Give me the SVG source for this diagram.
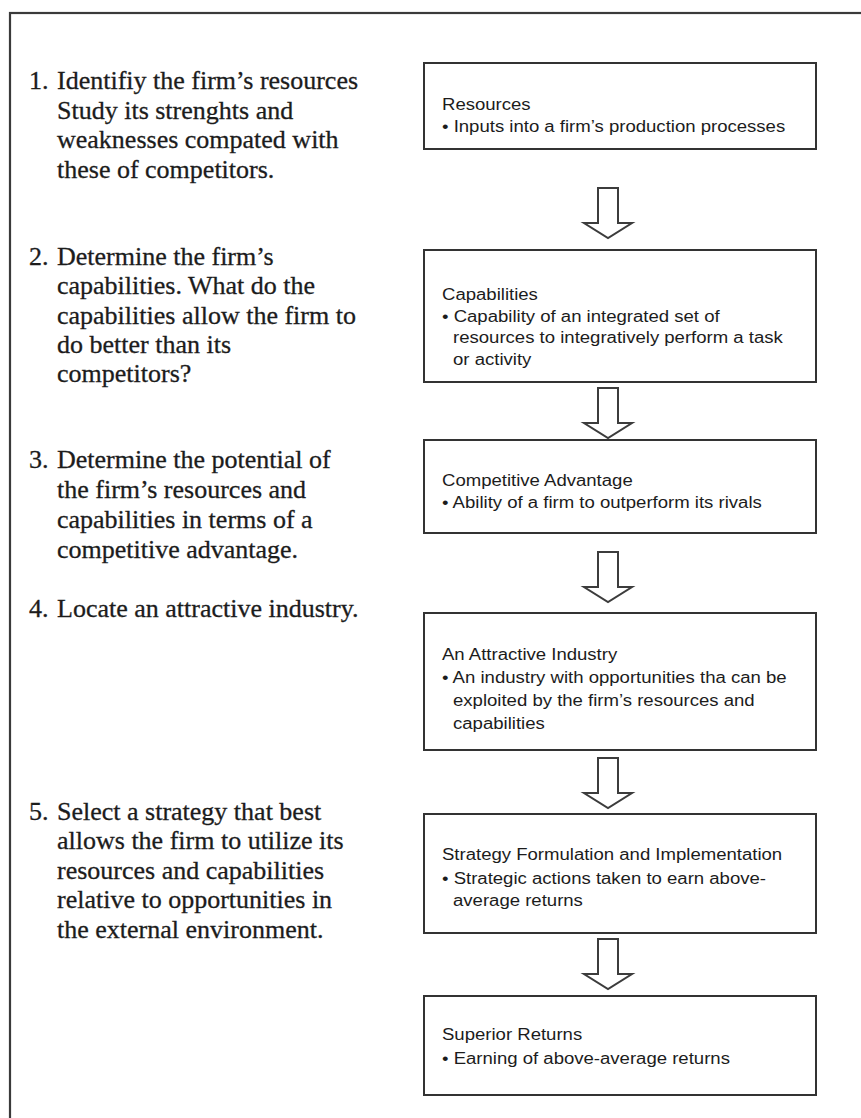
<svg xmlns="http://www.w3.org/2000/svg" width="861" height="1118" viewBox="0 0 861 1118">
  <defs>
    <style>
      .frame { fill: none; stroke: #3a3a3a; stroke-width: 2.2; }
      .box { fill: #ffffff; stroke: #333333; stroke-width: 2; }
      .arrow { fill: #ffffff; stroke: #3c3c3c; stroke-width: 2; stroke-linejoin: miter; }
      .step { font-family: "Liberation Serif", "Times New Roman", serif; font-size: 26px; fill: #1c1c1c; stroke: #1c1c1c; stroke-width: 0.3; }
      .lbl { font-family: "Liberation Sans", Arial, sans-serif; font-size: 16px; fill: #1c1c1c; }
    </style>
    <!-- hollow block arrow pointing down, origin at top-centre of the shaft -->
    <path id="downArrow" class="arrow" d="M -10 0 H 10 V 35 H 24 L 0 50 L -24 35 H -10 Z"/>
  </defs>

  <rect width="861" height="1118" fill="#ffffff"/>

  <!-- outer frame: only the top and left edges fall inside the page -->
  <rect class="frame" x="10" y="13" width="880" height="1130"/>

  <!-- left column: numbered analysis steps -->
  <g id="steps" class="step">
    <g id="step1">
      <text x="29" y="89">1.</text>
      <text x="57" y="89">Identifiy the firm’s resources</text>
      <text x="57" y="119">Study its strenghts and</text>
      <text x="57" y="148">weaknesses compated with</text>
      <text x="57" y="178">these of competitors.</text>
    </g>
    <g id="step2">
      <text x="29" y="265">2.</text>
      <text x="57" y="265">Determine the firm’s</text>
      <text x="57" y="294">capabilities. What do the</text>
      <text x="57" y="324">capabilities allow the firm to</text>
      <text x="57" y="353">do better than its</text>
      <text x="57" y="382">competitors?</text>
    </g>
    <g id="step3">
      <text x="29" y="468">3.</text>
      <text x="57" y="468">Determine the potential of</text>
      <text x="57" y="498">the firm’s resources and</text>
      <text x="57" y="528">capabilities in terms of a</text>
      <text x="57" y="558">competitive advantage.</text>
    </g>
    <g id="step4">
      <text x="29" y="617">4.</text>
      <text x="57" y="617">Locate an attractive industry.</text>
    </g>
    <g id="step5">
      <text x="29" y="820">5.</text>
      <text x="57" y="820">Select a strategy that best</text>
      <text x="57" y="849">allows the firm to utilize its</text>
      <text x="57" y="879">resources and capabilities</text>
      <text x="57" y="908">relative to opportunities in</text>
      <text x="57" y="938">the external environment.</text>
    </g>
  </g>

  <!-- connectors between the stages -->
  <g id="connectors">
    <use href="#downArrow" x="608" y="188"/>
    <use href="#downArrow" x="608" y="388"/>
    <use href="#downArrow" x="608" y="552"/>
    <use href="#downArrow" x="608" y="758"/>
    <use href="#downArrow" x="608" y="939"/>
  </g>

  <!-- right column: stage boxes -->
  <g id="resources">
    <rect class="box" x="424" y="63" width="392" height="86"/>
    <g class="lbl" transform="translate(442,0) scale(1.16,1)">
      <text x="0" y="110">Resources</text>
      <text x="0" y="132">• Inputs into a firm’s production processes</text>
    </g>
  </g>

  <g id="capabilities">
    <rect class="box" x="424" y="250" width="392" height="132"/>
    <g class="lbl" transform="translate(442,0) scale(1.16,1)">
      <text x="0" y="300">Capabilities</text>
      <text x="0" y="322">• Capability of an integrated  set of</text>
      <text x="9.5" y="343">resources to integratively perform a task</text>
      <text x="9.5" y="365">or activity</text>
    </g>
  </g>

  <g id="competitive-advantage">
    <rect class="box" x="424" y="440" width="392" height="93"/>
    <g class="lbl" transform="translate(442,0) scale(1.16,1)">
      <text x="0" y="486">Competitive Advantage</text>
      <text x="0" y="508">• Ability of a firm to outperform  its rivals</text>
    </g>
  </g>

  <g id="attractive-industry">
    <rect class="box" x="424" y="613" width="392" height="137"/>
    <g class="lbl" transform="translate(442,0) scale(1.16,1)">
      <text x="0" y="660">An Attractive Industry</text>
      <text x="0" y="683">• An industry with opportunities  tha can be</text>
      <text x="9.5" y="706">exploited by the firm’s resources and</text>
      <text x="9.5" y="729">capabilities</text>
    </g>
  </g>

  <g id="strategy">
    <rect class="box" x="424" y="814" width="392" height="119"/>
    <g class="lbl" transform="translate(442,0) scale(1.16,1)">
      <text x="0" y="860">Strategy Formulation and  Implementation</text>
      <text x="0" y="884">• Strategic actions taken  to earn above-</text>
      <text x="9.5" y="906">average returns</text>
    </g>
  </g>

  <g id="superior-returns">
    <rect class="box" x="424" y="996" width="392" height="99"/>
    <g class="lbl" transform="translate(442,0) scale(1.16,1)">
      <text x="0" y="1040">Superior Returns</text>
      <text x="0" y="1064">• Earning of above-average  returns</text>
    </g>
  </g>
</svg>
